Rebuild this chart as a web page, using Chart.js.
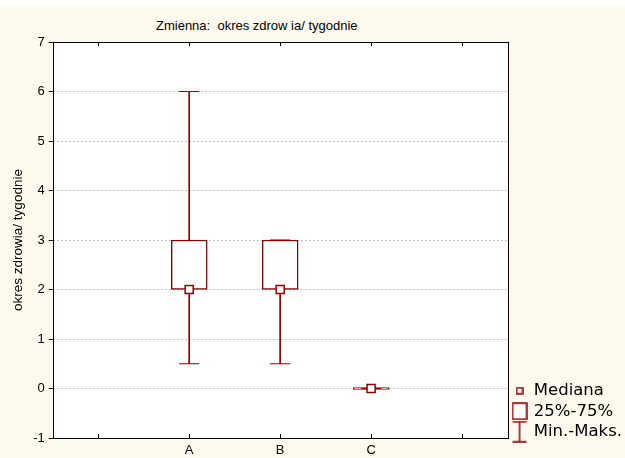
<!DOCTYPE html>
<html>
<head>
<meta charset="utf-8">
<script src="https://cdn.jsdelivr.net/npm/chart.js@4.4.1/dist/chart.umd.min.js"></script>
<style>
  html, body { margin: 0; padding: 0; background: #ffffff; }
  #wrap { position: relative; width: 625px; height: 458px; overflow: hidden; }
  #cream { position: absolute; left: 0; top: 7px; width: 625px; height: 451px; background: #fff9ee; }
  #title { position: absolute; top: 18px; left: 156px;
           font: 13px "Liberation Sans", Arial, sans-serif; color: #000; white-space: pre; }
  canvas { position: absolute; left: 0; top: 0; }
</style>
</head>
<body>
<div id="wrap">
  <div id="cream"></div>
  <div id="title">Zmienna:  okres zdrow ia/ tygodnie</div>
  <canvas id="chart" width="625" height="458"></canvas>
</div>
<script>
// categories on the x axis (empty slots at both ends, like the original)
const categories = ['', 'A', 'B', 'C', ''];
// box plot values per category
const mins    = [null, 0.5, 0.5, 0, null];
const q1s     = [null, 2,   2,   0, null];
const medians = [null, 2,   2,   0, null];
const q3s     = [null, 3,   3,   0, null];
const maxs    = [null, 6,   3,   0, null];
// y axis range
const yMin = -1, yMax = 7, yStep = 1;

const RED = '#8b0000';
const FONT = '"Liberation Sans", Arial, sans-serif';

// small canvases used as legend icons
function makeIcon(w, h, draw) {
    const c = document.createElement('canvas');
    c.width = w; c.height = h;
    const g = c.getContext('2d');
    g.strokeStyle = RED;
    g.fillStyle = '#ffffff';
    g.lineWidth = 1.5;
    draw(g);
    return c;
}
const iconMedian = makeIcon(8, 8, g => { g.fillRect(1, 1, 6, 6); g.strokeRect(1, 1, 6, 6); });
const iconBox = makeIcon(16, 18, g => { g.fillRect(1, 1, 14, 16); g.strokeRect(1, 1, 14, 16); });
const iconRange = makeIcon(16, 22, g => {
    g.beginPath();
    g.moveTo(1, 1); g.lineTo(15, 1);
    g.moveTo(8, 1); g.lineTo(8, 21);
    g.moveTo(1, 21); g.lineTo(15, 21);
    g.stroke();
});

const ranges = (lo, hi) => lo.map((v, i) => (v == null ? null : [v, hi[i]]));

// white plot area, frame and inner ticks on the category axis
const plotFrame = {
    id: 'plotFrame',
    afterLayout(chart) {
        // move the legend block a little, like in the original
        const lg = chart.legend;
        lg.left += 2; lg.right += 2;
        lg.top += 6; lg.bottom += 6;
    },
    beforeDraw(chart) {
        const a = chart.chartArea, ctx = chart.ctx;
        ctx.save();
        ctx.fillStyle = '#ffffff';
        ctx.fillRect(a.left, a.top, a.right - a.left, a.bottom - a.top);
        ctx.restore();
    },
    afterDraw(chart) {
        const a = chart.chartArea, ctx = chart.ctx, x = chart.scales.x;
        ctx.save();
        ctx.strokeStyle = '#000000';
        ctx.lineWidth = 1;
        ctx.strokeRect(Math.round(a.left) + 0.5, Math.round(a.top) + 0.5,
                       Math.round(a.right - a.left), Math.round(a.bottom - a.top));
        ctx.beginPath();
        x.ticks.forEach((t, i) => {
            const px = Math.round(x.getPixelForTick(i)) + 0.5;
            ctx.moveTo(px, a.top); ctx.lineTo(px, a.top + 4);
            ctx.moveTo(px, a.bottom); ctx.lineTo(px, a.bottom - 4);
        });
        ctx.stroke();
        ctx.restore();
    }
};

new Chart(document.getElementById('chart'), {
    data: {
        labels: categories,
        datasets: [
            {
                type: 'bar', label: 'low', data: ranges(mins, q1s),
                backgroundColor: RED, borderWidth: 0, barThickness: 1, grouped: false, order: 5
            },
            {
                type: 'bar', label: 'high', data: ranges(q3s, maxs),
                backgroundColor: RED, borderWidth: 0, barThickness: 1, grouped: false, order: 5
            },
            {
                type: 'bar', label: 'box', data: ranges(q1s, q3s),
                backgroundColor: '#ffffff', borderColor: RED, borderWidth: 1.5, borderSkipped: false,
                barThickness: 36, minBarLength: 2, grouped: false, order: 4
            },
            {
                type: 'line', label: 'min', data: mins, showLine: false,
                pointStyle: 'line', pointRadius: 10, pointHoverRadius: 10,
                borderColor: RED, borderWidth: 1, order: 3
            },
            {
                type: 'line', label: 'max', data: maxs, showLine: false,
                pointStyle: 'line', pointRadius: 10, pointHoverRadius: 10,
                borderColor: RED, borderWidth: 1, order: 3
            },
            {
                type: 'line', label: 'median', data: medians, showLine: false,
                pointStyle: 'rect', pointRadius: 5.7, pointHoverRadius: 5.7,
                backgroundColor: '#ffffff', borderColor: RED, borderWidth: 1.5, order: 1
            }
        ]
    },
    options: {
        responsive: false,
        animation: false,
        events: [],
        layout: { padding: { top: 42, left: 7, right: -5, bottom: -5 } },
        plugins: {
            tooltip: { enabled: false },
            legend: {
                position: 'right',
                align: 'end',
                fullSize: false,
                labels: {
                    usePointStyle: true,
                    pointStyleWidth: 12,
                    padding: 4,
                    color: '#000000',
                    font: { family: '"DejaVu Sans", sans-serif', size: 16.5 },
                    generateLabels: () => [
                        { text: 'Mediana', pointStyle: iconMedian, lineWidth: 0, fillStyle: 'transparent', strokeStyle: 'transparent' },
                        { text: '25%-75%', pointStyle: iconBox, lineWidth: 0, fillStyle: 'transparent', strokeStyle: 'transparent' },
                        { text: 'Min.-Maks.', pointStyle: iconRange, lineWidth: 0, fillStyle: 'transparent', strokeStyle: 'transparent' }
                    ]
                }
            }
        },
        scales: {
            x: {
                type: 'category',
                offset: true,
                grid: { display: false, drawTicks: false },
                border: { display: false },
                ticks: {
                    color: '#000000', padding: 6, autoSkip: false, maxRotation: 0,
                    font: { family: FONT, size: 13, lineHeight: 1 }
                }
            },
            y: {
                min: yMin, max: yMax,
                grid: { color: '#c4c4c4', tickColor: '#000000', tickLength: 4, lineWidth: 1 },
                border: { display: false, dash: [2, 2] },
                ticks: {
                    stepSize: yStep, color: '#000000', padding: 4,
                    font: { family: FONT, size: 13 }
                },
                title: {
                    display: true, text: 'okres zdrowia/ tygodnie', color: '#000000', padding: 3,
                    font: { family: FONT, size: 13.5 }
                }
            }
        }
    },
    plugins: [plotFrame]
});
</script>
</body>
</html>
